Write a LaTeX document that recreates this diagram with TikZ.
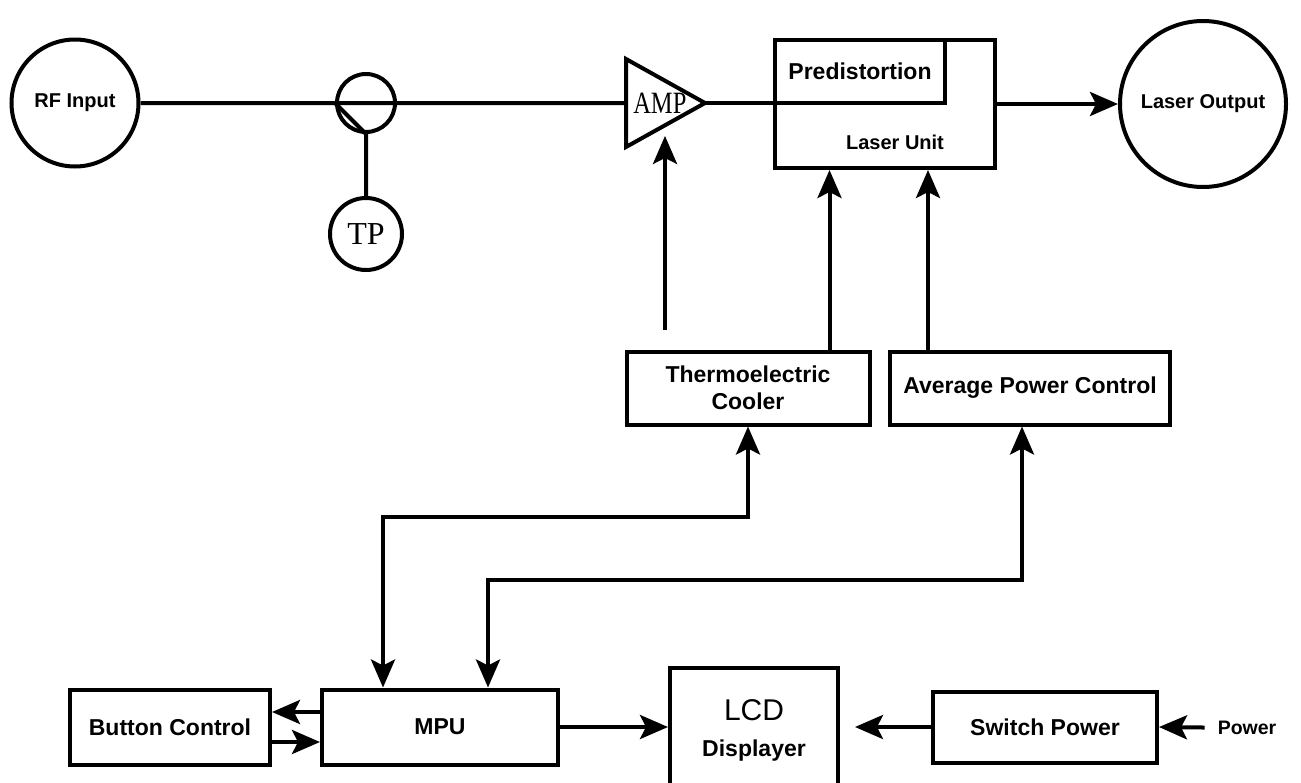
\documentclass[tikz,border=0pt]{standalone}
\usepackage{fontspec}
\setmainfont{Liberation Sans}
\newfontfamily\ampfont{Liberation Serif}
\usetikzlibrary{arrows.meta,positioning,calc,shapes.geometric}
\tikzset{box/.style={draw,line width=4pt,align=center,inner sep=0pt,font=\bfseries\fontsize{23}{27}\selectfont},ring/.style={draw,circle,line width=4pt,inner sep=0pt},wire/.style={line width=4pt},arr/.style={-{Stealth[length=28pt,width=24pt,inset=6pt]},line width=4pt},darr/.style={{Stealth[length=28pt,width=24pt,inset=6pt]}-{Stealth[length=28pt,width=24pt,inset=6pt]},line width=4pt}}

\begin{document}
\begin{tikzpicture}[x=1pt,y=-1pt]
\useasboundingbox (0,0) rectangle (1301,782);
% signal chain
\node[ring,minimum size=127pt,font=\bfseries\fontsize{20}{24}\selectfont] (rf) at (75,103) {RF Input};
\node[ring,minimum size=58pt] (cpl) at (366,103) {};
\node[ring,minimum size=72pt,font=\ampfont\fontsize{32}{32}\selectfont] (tp) at (366,234) {TP};
\node[draw,line width=4pt,isosceles triangle,isosceles triangle stretches,minimum height=79pt,minimum width=88pt,inner sep=0pt,outer sep=0pt,anchor=apex,font=\ampfont\fontsize{31}{31}\selectfont] (amp) at (705,103) {\makebox[0pt][c]{\hspace*{28pt}\scalebox{0.79}[1]{AMP}}};
\node[box,minimum width=220pt,minimum height=128pt] (lu) at (885,104) {};
\node[box,minimum width=170pt,minimum height=63pt,anchor=north west] (pre) at (lu.north west) {Predistortion};
\node[font=\bfseries\fontsize{20}{24}\selectfont] (lutxt) at ($(lu.south)+(10,-28)$) {Laser Unit};
\node[ring,minimum size=166pt,font=\bfseries\fontsize{20}{24}\selectfont] (lo) at (1203,104) {Laser Output};
\draw[wire] (rf) -- (amp);
\draw[wire] (cpl.west) -- (cpl.south) -- (tp);
\draw[wire] (amp.apex) -- (amp.apex -| pre.west);
\draw[arr] (lu) -- (lo);
% control blocks
\node[box,minimum width=243pt,minimum height=73pt] (tec) at (748,388) {Thermoelectric\\Cooler};
\node[box,minimum width=280pt,minimum height=73pt] (apc) at (1030,388) {Average Power Control};
\coordinate (ampin) at (665,330);
\draw[arr] (ampin) -- (ampin |- amp.south);
\draw[arr] (tec.north east) ++(-42,0) coordinate (tup) -- (tup |- lu.south);
\draw[arr] (apc.north west) ++(40,0) coordinate (aup) -- (aup |- lu.south);
% bottom row
\node[box,minimum width=200pt,minimum height=75pt] (btn) at (170,727) {Button Control};
\node[box,minimum width=236pt,minimum height=75pt] (mpu) at (440,727) {MPU};
\node[box,minimum width=168pt,minimum height=124pt,font=\fontsize{30}{36}\selectfont] (lcd) at (754,730) {LCD\\{\bfseries\fontsize{23}{27}\selectfont Displayer}};
\node[box,minimum width=224pt,minimum height=71pt] (sw) at (1045,727) {Switch Power};
\node[font=\bfseries\fontsize{19.5}{22}\selectfont,inner xsep=13pt] (pw) at (1247,728) {Power};
\draw[darr] (tec.south) -- ++(0,90) -| ([xshift=63pt]mpu.north west);
\draw[darr] ([xshift=-8pt]apc.south) -- ++(0,153) -| ([xshift=168pt]mpu.north west);
\draw[arr] ([yshift=15pt]mpu.west) -- ([yshift=15pt]btn.east);
\draw[arr] ([yshift=-15pt]btn.east) -- ([yshift=-15pt]mpu.west);
\draw[arr] (mpu.east) -- (mpu.east -| lcd.west);
\draw[arr,shorten >=15pt] (sw.west) -- (sw.west -| lcd.east);
\draw[arr] (pw) -- (sw.east);
\end{tikzpicture}
\end{document}
